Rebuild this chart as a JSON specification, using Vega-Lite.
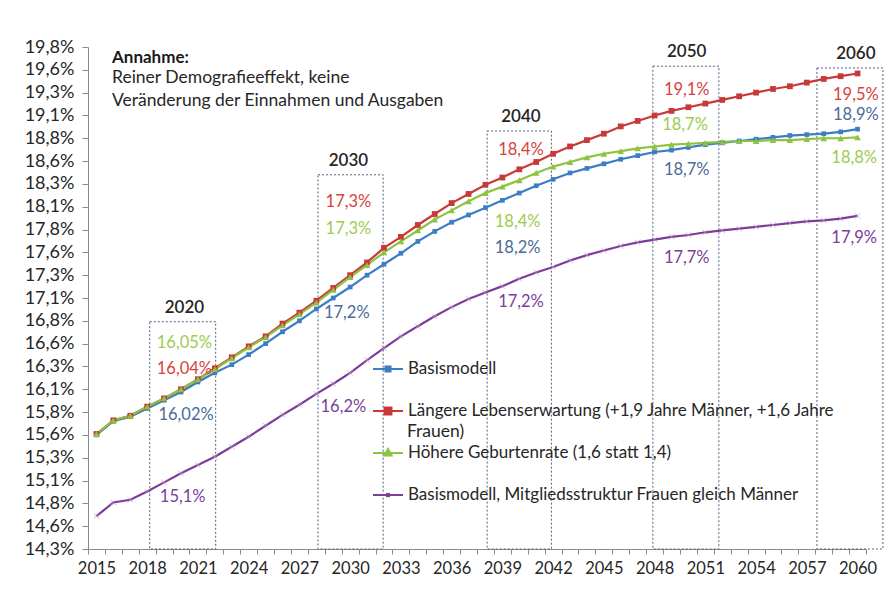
{
  "$schema": "https://vega.github.io/schema/vega-lite/v6.json",
  "width": 778,
  "height": 502,
  "autosize": "none",
  "padding": {"left": 88, "top": 47, "right": 20, "bottom": 47},
  "background": "#ffffff",
  "config": {"font": "Lato", "view": {"stroke": null}, "axis": {"labelOverlap": false, "grid": false, "title": null}},
  "datasets": {
    "names": [
      {"key": "B", "series": "Basismodell"},
      {"key": "L", "series": "Längere Lebenserwartung (+1,9 Jahre Männer, +1,6 Jahre"},
      {"key": "H", "series": "Höhere Geburtenrate (1,6 statt 1,4)"},
      {"key": "M", "series": "Basismodell, Mitgliedsstruktur Frauen gleich Männer"}
    ],
    "rates": [
      {"year": 2015, "B": 15.55, "L": 15.56, "H": 15.56, "M": 14.66},
      {"year": 2016, "B": 15.70, "L": 15.71, "H": 15.71, "M": 14.81},
      {"year": 2017, "B": 15.75, "L": 15.76, "H": 15.76, "M": 14.84},
      {"year": 2018, "B": 15.84, "L": 15.86, "H": 15.86, "M": 14.93},
      {"year": 2019, "B": 15.93, "L": 15.95, "H": 15.95, "M": 15.03},
      {"year": 2020, "B": 16.02, "L": 16.05, "H": 16.05, "M": 15.13},
      {"year": 2021, "B": 16.13, "L": 16.16, "H": 16.16, "M": 15.22},
      {"year": 2022, "B": 16.23, "L": 16.28, "H": 16.27, "M": 15.31},
      {"year": 2023, "B": 16.32, "L": 16.40, "H": 16.39, "M": 15.42},
      {"year": 2024, "B": 16.43, "L": 16.52, "H": 16.51, "M": 15.53},
      {"year": 2025, "B": 16.55, "L": 16.63, "H": 16.62, "M": 15.65},
      {"year": 2026, "B": 16.68, "L": 16.77, "H": 16.75, "M": 15.77},
      {"year": 2027, "B": 16.80, "L": 16.89, "H": 16.87, "M": 15.88},
      {"year": 2028, "B": 16.93, "L": 17.02, "H": 17.00, "M": 16.00},
      {"year": 2029, "B": 17.05, "L": 17.16, "H": 17.14, "M": 16.11},
      {"year": 2030, "B": 17.17, "L": 17.30, "H": 17.28, "M": 16.23},
      {"year": 2031, "B": 17.30, "L": 17.44, "H": 17.41, "M": 16.37},
      {"year": 2032, "B": 17.42, "L": 17.60, "H": 17.55, "M": 16.50},
      {"year": 2033, "B": 17.54, "L": 17.72, "H": 17.67, "M": 16.63},
      {"year": 2034, "B": 17.67, "L": 17.85, "H": 17.79, "M": 16.74},
      {"year": 2035, "B": 17.78, "L": 17.97, "H": 17.91, "M": 16.85},
      {"year": 2036, "B": 17.88, "L": 18.09, "H": 18.01, "M": 16.95},
      {"year": 2037, "B": 17.96, "L": 18.19, "H": 18.11, "M": 17.04},
      {"year": 2038, "B": 18.04, "L": 18.29, "H": 18.20, "M": 17.11},
      {"year": 2039, "B": 18.12, "L": 18.37, "H": 18.27, "M": 17.18},
      {"year": 2040, "B": 18.20, "L": 18.46, "H": 18.34, "M": 17.26},
      {"year": 2041, "B": 18.28, "L": 18.54, "H": 18.42, "M": 17.33},
      {"year": 2042, "B": 18.35, "L": 18.63, "H": 18.49, "M": 17.39},
      {"year": 2043, "B": 18.42, "L": 18.71, "H": 18.54, "M": 17.46},
      {"year": 2044, "B": 18.47, "L": 18.78, "H": 18.59, "M": 17.52},
      {"year": 2045, "B": 18.52, "L": 18.85, "H": 18.63, "M": 17.57},
      {"year": 2046, "B": 18.57, "L": 18.93, "H": 18.66, "M": 17.62},
      {"year": 2047, "B": 18.61, "L": 18.99, "H": 18.69, "M": 17.66},
      {"year": 2048, "B": 18.65, "L": 19.05, "H": 18.71, "M": 17.69},
      {"year": 2049, "B": 18.67, "L": 19.10, "H": 18.73, "M": 17.72},
      {"year": 2050, "B": 18.70, "L": 19.14, "H": 18.74, "M": 17.74},
      {"year": 2051, "B": 18.73, "L": 19.18, "H": 18.75, "M": 17.77},
      {"year": 2052, "B": 18.75, "L": 19.22, "H": 18.76, "M": 17.79},
      {"year": 2053, "B": 18.77, "L": 19.26, "H": 18.77, "M": 17.81},
      {"year": 2054, "B": 18.79, "L": 19.30, "H": 18.77, "M": 17.83},
      {"year": 2055, "B": 18.81, "L": 19.34, "H": 18.78, "M": 17.85},
      {"year": 2056, "B": 18.83, "L": 19.37, "H": 18.78, "M": 17.87},
      {"year": 2057, "B": 18.84, "L": 19.41, "H": 18.79, "M": 17.89},
      {"year": 2058, "B": 18.85, "L": 19.45, "H": 18.80, "M": 17.90},
      {"year": 2059, "B": 18.87, "L": 19.48, "H": 18.80, "M": 17.92},
      {"year": 2060, "B": 18.90, "L": 19.51, "H": 18.81, "M": 17.95}
    ],
    "boxes": [
      {"year": 2020, "x1": 2018.15, "x2": 2022.05, "top": 16.79, "mid": 2020.2},
      {"year": 2030, "x1": 2028.1, "x2": 2031.95, "top": 18.40, "mid": 2029.9},
      {"year": 2040, "x1": 2038.1, "x2": 2041.9, "top": 18.88, "mid": 2040.1},
      {"year": 2050, "x1": 2047.9, "x2": 2051.8, "top": 19.59, "mid": 2049.9},
      {"year": 2060, "x1": 2057.6, "x2": 2061.5, "top": 19.57, "mid": 2059.9}
    ],
    "labels": [
      {"key": "H", "x": 2020.2, "y": 16.56, "text": "16,05%"},
      {"key": "L", "x": 2020.2, "y": 16.27, "text": "16,04%"},
      {"key": "B", "x": 2020.3, "y": 15.77, "text": "16,02%"},
      {"key": "M", "x": 2020.1, "y": 14.87, "text": "15,1%"},
      {"key": "L", "x": 2029.9, "y": 18.10, "text": "17,3%"},
      {"key": "H", "x": 2029.9, "y": 17.81, "text": "17,3%"},
      {"key": "B", "x": 2029.8, "y": 16.89, "text": "17,2%"},
      {"key": "M", "x": 2029.6, "y": 15.86, "text": "16,2%"},
      {"key": "L", "x": 2040.1, "y": 18.67, "text": "18,4%"},
      {"key": "H", "x": 2039.9, "y": 17.88, "text": "18,4%"},
      {"key": "B", "x": 2039.9, "y": 17.60, "text": "18,2%"},
      {"key": "M", "x": 2040.1, "y": 17.01, "text": "17,2%"},
      {"key": "L", "x": 2049.9, "y": 19.33, "text": "19,1%"},
      {"key": "H", "x": 2049.8, "y": 18.95, "text": "18,7%"},
      {"key": "B", "x": 2049.9, "y": 18.45, "text": "18,7%"},
      {"key": "M", "x": 2049.9, "y": 17.49, "text": "17,7%"},
      {"key": "L", "x": 2059.9, "y": 19.27, "text": "19,5%"},
      {"key": "B", "x": 2059.9, "y": 19.06, "text": "18,9%"},
      {"key": "H", "x": 2059.8, "y": 18.58, "text": "18,8%"},
      {"key": "M", "x": 2059.8, "y": 17.71, "text": "17,9%"}
    ],
    "note": [
      {"x": 2015.92, "y": 19.68, "text": "Annahme:", "bold": true},
      {"x": 2015.92, "y": 19.46, "text": "Reiner Demografieeffekt, keine", "bold": false},
      {"x": 2015.92, "y": 19.21, "text": "Veränderung der Einnahmen und Ausgaben", "bold": false},
      {"x": 2033.36, "y": 15.58, "text": "Frauen)", "bold": false}
    ]
  },
  "layer": [
    {
      "data": {"name": "boxes"},
      "mark": {"type": "rect", "fill": null, "stroke": "#4d5f82", "strokeWidth": 1, "strokeDash": [2, 2]},
      "encoding": {
        "x": {"field": "x1", "type": "quantitative", "scale": {"domain": [2014.5, 2060.5], "nice": false, "zero": false}, "axis": null},
        "x2": {"field": "x2"},
        "y": {"field": "top", "type": "quantitative", "scale": {"domain": [14.3, 19.8], "nice": false, "zero": false}, "axis": null},
        "y2": {"datum": 14.3}
      }
    },
    {
      "data": {"name": "rates"},
      "transform": [
        {"fold": ["B", "L", "H", "M"], "as": ["key", "value"]},
        {"lookup": "key", "from": {"data": {"name": "names"}, "key": "key", "fields": ["series"]}}
      ],
      "mark": {"type": "line", "strokeWidth": 2.2},
      "encoding": {
        "x": {"field": "year", "type": "quantitative", "scale": {"domain": [2014.5, 2060.5], "nice": false, "zero": false},
          "axis": {"values": [2014.5,2015.5,2016.5,2017.5,2018.5,2019.5,2020.5,2021.5,2022.5,2023.5,2024.5,2025.5,2026.5,2027.5,2028.5,2029.5,2030.5,2031.5,2032.5,2033.5,2034.5,2035.5,2036.5,2037.5,2038.5,2039.5,2040.5,2041.5,2042.5,2043.5,2044.5,2045.5,2046.5,2047.5,2048.5,2049.5,2050.5,2051.5,2052.5,2053.5,2054.5,2055.5,2056.5,2057.5,2058.5,2059.5,2060.5],
            "labelExpr": "round(datum.value - 2014.5) % 3 == 0 ? '' + round(datum.value + 0.5) : ''",
            "labelOffset": 8.46, "labelFlush": false, "labelOverlap": false, "labelBound": false,
            "ticks": true, "tickSize": 5, "tickColor": "#8a8a8a", "domainColor": "#8a8a8a",
            "labelFontSize": 16.5, "labelColor": "#262626", "labelPadding": 6, "grid": false, "title": null, "orient": "bottom"}},
        "y": {"field": "value", "type": "quantitative", "scale": {"domain": [14.3, 19.8], "nice": false, "zero": false},
          "axis": {"values": [14.3,14.55,14.8,15.05,15.3,15.55,15.8,16.05,16.3,16.55,16.8,17.05,17.3,17.55,17.8,18.05,18.3,18.55,18.8,19.05,19.3,19.55,19.8],
            "labelExpr": "replace(format(datum.value + 0.0001, '.1f'), '.', ',') + '%'",
            "tickSize": 6, "tickColor": "#8a8a8a", "domainColor": "#8a8a8a", "labelFontSize": 18, "labelColor": "#262626",
            "labelPadding": 8, "grid": false, "title": null, "labelOverlap": false, "orient": "left"}},
        "color": {"field": "series", "type": "nominal",
          "scale": {"domain": ["Basismodell", "Längere Lebenserwartung (+1,9 Jahre Männer, +1,6 Jahre", "Höhere Geburtenrate (1,6 statt 1,4)", "Basismodell, Mitgliedsstruktur Frauen gleich Männer"],
            "range": ["#3c7dc4", "#c8393a", "#8cc43f", "#7b3d99"]},
          "legend": {"orient": "none", "legendX": 284, "legendY": 306, "title": null, "labelFontSize": 17, "labelColor": "#262626",
            "labelLimit": 700, "symbolSize": 900, "symbolStrokeWidth": 2, "rowPadding": 18, "labelOffset": 4,
            "encode": {
              "symbols": {"update": {
                "shape": {"signal": "indexof(datum.value,'Längere')==0 ? 'M-1,0H1M-0.23,-0.23H0.23V0.23H-0.23Z' : indexof(datum.value,'Höhere')==0 ? 'M-1,0H1M0,-0.26L0.24,0.17H-0.24Z' : indexof(datum.value,'Mitglied')>0 ? 'M-1,0H1M-0.12,-0.12L0.12,0.12M-0.12,0.12L0.12,-0.12' : 'M-1,0H1M-0.17,-0.17H0.17V0.17H-0.17Z'"},
                "fill": {"signal": "indexof(datum.value,'Längere')==0 ? '#c8393a' : indexof(datum.value,'Höhere')==0 ? '#8cc43f' : indexof(datum.value,'Mitglied')>0 ? 'transparent' : '#3c7dc4'"},
                "stroke": {"signal": "indexof(datum.value,'Längere')==0 ? '#c8393a' : indexof(datum.value,'Höhere')==0 ? '#8cc43f' : indexof(datum.value,'Mitglied')>0 ? '#7b3d99' : '#3c7dc4'"},
                "strokeWidth": {"value": 2}
              }}
            }}
        }
      }
    },
    {
      "data": {"name": "rates"},
      "transform": [
        {"fold": ["B", "L", "H"], "as": ["key", "value"]},
        {"lookup": "key", "from": {"data": {"name": "names"}, "key": "key", "fields": ["series"]}}
      ],
      "mark": {"type": "point", "filled": true, "opacity": 1},
      "encoding": {
        "x": {"field": "year", "type": "quantitative", "scale": {"domain": [2014.5, 2060.5], "nice": false, "zero": false}, "axis": null},
        "y": {"field": "value", "type": "quantitative", "scale": {"domain": [14.3, 19.8], "nice": false, "zero": false}, "axis": null},
        "color": {"field": "series", "type": "nominal", "legend": null},
        "shape": {"field": "key", "type": "nominal", "scale": {"domain": ["B", "L", "H"], "range": ["square", "square", "triangle-up"]}, "legend": null},
        "size": {"field": "key", "type": "nominal", "scale": {"domain": ["B", "L", "H"], "range": [22, 45, 50]}, "legend": null}
      }
    },
    {
      "data": {"name": "rates"},
      "mark": {"type": "point", "shape": "M-1,-1L1,1M-1,1L1,-1", "filled": false, "stroke": "#c49ac4", "strokeWidth": 1, "size": 30},
      "encoding": {
        "x": {"field": "year", "type": "quantitative", "scale": {"domain": [2014.5, 2060.5], "nice": false, "zero": false}, "axis": null},
        "y": {"field": "M", "type": "quantitative", "scale": {"domain": [14.3, 19.8], "nice": false, "zero": false}, "axis": null}
      }
    },
    {
      "data": {"name": "boxes"},
      "mark": {"type": "text", "baseline": "bottom", "dy": -5, "fontSize": 17, "fontWeight": 600, "color": "#262626"},
      "encoding": {
        "x": {"field": "mid", "type": "quantitative", "scale": {"domain": [2014.5, 2060.5], "nice": false, "zero": false}, "axis": null},
        "y": {"field": "top", "type": "quantitative", "scale": {"domain": [14.3, 19.8], "nice": false, "zero": false}, "axis": null},
        "text": {"field": "year", "type": "nominal"}
      }
    },
    {
      "data": {"name": "labels"},
      "mark": {"type": "text", "baseline": "middle", "align": "center", "fontSize": 16.5},
      "encoding": {
        "x": {"field": "x", "type": "quantitative", "scale": {"domain": [2014.5, 2060.5], "nice": false, "zero": false}, "axis": null},
        "y": {"field": "y", "type": "quantitative", "scale": {"domain": [14.3, 19.8], "nice": false, "zero": false}, "axis": null},
        "text": {"field": "text", "type": "nominal"},
        "fill": {"field": "key", "type": "nominal", "scale": {"domain": ["B", "L", "H", "M"], "range": ["#4a6b99", "#d8423e", "#9ccc50", "#7a3f98"]}, "legend": null}
      }
    },
    {
      "data": {"name": "note"},
      "transform": [{"filter": "datum.bold"}],
      "mark": {"type": "text", "align": "left", "baseline": "middle", "fontSize": 17, "fontWeight": "bold", "color": "#1a1a1a"},
      "encoding": {
        "x": {"field": "x", "type": "quantitative", "scale": {"domain": [2014.5, 2060.5], "nice": false, "zero": false}, "axis": null},
        "y": {"field": "y", "type": "quantitative", "scale": {"domain": [14.3, 19.8], "nice": false, "zero": false}, "axis": null},
        "text": {"field": "text", "type": "nominal"}
      }
    },
    {
      "data": {"name": "note"},
      "transform": [{"filter": "!datum.bold"}],
      "mark": {"type": "text", "align": "left", "baseline": "middle", "fontSize": 17.5, "color": "#262626"},
      "encoding": {
        "x": {"field": "x", "type": "quantitative", "scale": {"domain": [2014.5, 2060.5], "nice": false, "zero": false}, "axis": null},
        "y": {"field": "y", "type": "quantitative", "scale": {"domain": [14.3, 19.8], "nice": false, "zero": false}, "axis": null},
        "text": {"field": "text", "type": "nominal"}
      }
    }
  ],
  "resolve": {"axis": {"x": "independent", "y": "independent"}}
}
